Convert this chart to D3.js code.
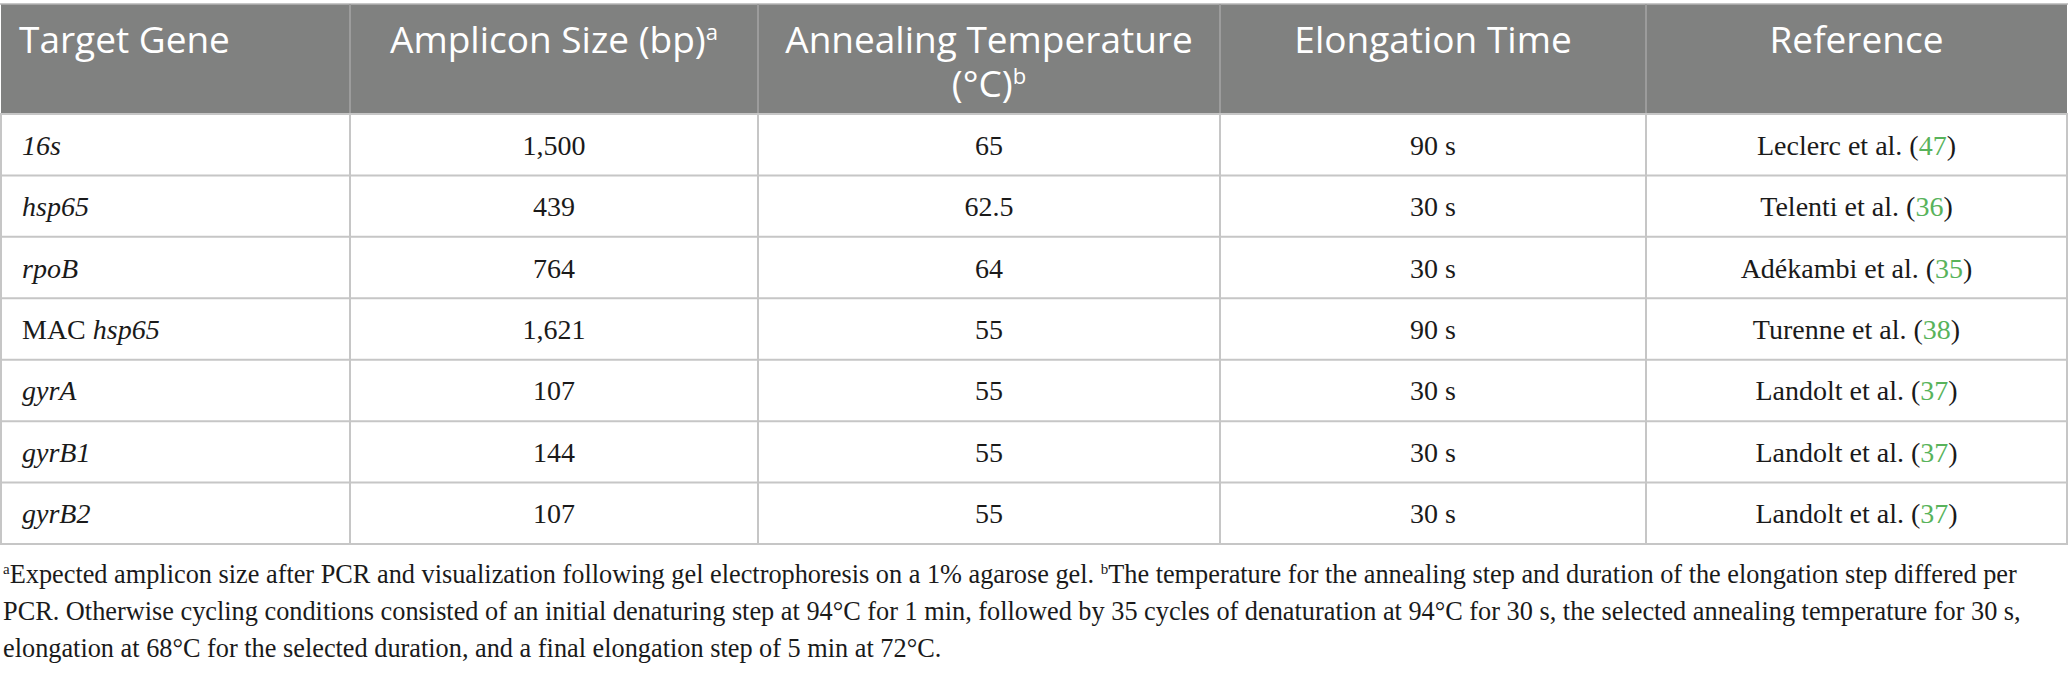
<!DOCTYPE html>
<html lang="en">
<head>
    <meta charset="UTF-8">
    <title>PCR conditions table</title>
    <script src="https://d3js.org/d3.v7.min.js"></script>
    <style>
        body { margin: 0; background: #fff; }
        .head { font-family: "Open Sans", sans-serif; font-size: 37px; fill: #fff; }
        .cell { font-family: "Liberation Serif", serif; font-size: 28px; fill: #1a1a1a; }
        .note { font-family: "Liberation Serif", serif; font-size: 26.3px; fill: #1a1a1a; }
        .ref { fill: #58b35b; }
    </style>
</head>
<body>
    <script>
        // table content
        const headers = [
            ["Target Gene"],
            ["Amplicon Size (bp)|a"],
            ["Annealing Temperature", "(°C)|b"],
            ["Elongation Time"],
            ["Reference"]
        ];
        // prefix (roman) + gene name (italic)
        const genePrefix = ["", "", "", "MAC ", "", "", ""];
        const geneNames = ["16s", "hsp65", "rpoB", "hsp65", "gyrA", "gyrB1", "gyrB2"];
        const ampliconSizes = [1500, 439, 764, 1621, 107, 144, 107];
        const annealingTemps = [65, 62.5, 64, 55, 55, 55, 55];
        const elongationTimes = [90, 30, 30, 90, 30, 30, 30];
        const refAuthors = ["Leclerc et al.", "Telenti et al.", "Adékambi et al.", "Turenne et al.",
            "Landolt et al.", "Landolt et al.", "Landolt et al."];
        const refNumbers = [47, 36, 35, 38, 37, 37, 37];

        // [text, isSuperscript]
        const footnotes = [
            [["a", true], ["Expected amplicon size after PCR and visualization following gel electrophoresis on a 1% agarose gel. ", false],
             ["b", true], ["The temperature for the annealing step and duration of the elongation step differed per", false]],
            [["PCR. Otherwise cycling conditions consisted of an initial denaturing step at 94°C for 1 min, followed by 35 cycles of denaturation at 94°C for 30 s, the selected annealing temperature for 30 s,", false]],
            [["elongation at 68°C for the selected duration, and a final elongation step of 5 min at 72°C.", false]]
        ];

        const W = 2068, H = 675;
        const tableTop = 4, headBottom = 114, tableBottom = 544;
        const colEdges = [1, 350, 758, 1220, 1646, 2067];

        const svg = d3.select("body").append("svg")
            .attr("width", W)
            .attr("height", H);

        const rowIdx = d3.range(geneNames.length);
        const y = d3.scaleBand().domain(rowIdx).range([headBottom, tableBottom]);
        const colMid = i => (colEdges[i] + colEdges[i + 1]) / 2;
        const fmt = d3.format(",");

        // header background
        svg.append("rect")
            .attr("x", colEdges[0]).attr("y", tableTop)
            .attr("width", colEdges[5] - colEdges[0]).attr("height", headBottom - tableTop)
            .attr("fill", "#808180");
        svg.append("line")
            .attr("x1", 0).attr("x2", W).attr("y1", tableTop).attr("y2", tableTop)
            .attr("stroke", "#b4b4b4").attr("stroke-width", 1.5);

        // header separators
        svg.selectAll(".hsep").data(colEdges.slice(1, 5)).enter().append("line")
            .attr("x1", d => d).attr("x2", d => d)
            .attr("y1", tableTop).attr("y2", headBottom)
            .attr("stroke", "#9c9c9c").attr("stroke-width", 2);

        // header text, one text element per line
        headers.forEach((lines, i) => {
            const x = i === 0 ? 19 : colMid(i);
            lines.forEach((ln, k) => {
                const [main, sup] = ln.split("|");
                const t = svg.append("text").attr("class", "head")
                    .attr("text-anchor", i === 0 ? "start" : "middle")
                    .attr("x", x).attr("y", 53 + k * 44);
                t.append("tspan").text(main);
                if (sup) {
                    t.append("tspan").attr("font-size", 22).attr("dy", -13).text(sup);
                }
            });
        });

        // body grid
        const gridCol = "#c6c6c6";
        svg.selectAll(".hline").data(rowIdx.map(i => y(i) + y.bandwidth()).concat([headBottom]))
            .enter().append("line")
            .attr("x1", colEdges[0] - 1).attr("x2", colEdges[5] + 1)
            .attr("y1", d => d).attr("y2", d => d)
            .attr("stroke", gridCol).attr("stroke-width", 2);
        svg.selectAll(".vline").data(colEdges)
            .enter().append("line")
            .attr("x1", d => d).attr("x2", d => d)
            .attr("y1", headBottom).attr("y2", tableBottom)
            .attr("stroke", gridCol).attr("stroke-width", 2);

        const baseY = i => y(i) + y.bandwidth() / 2 + 10;

        // column 1: gene
        const g0 = svg.selectAll(".gene").data(rowIdx).enter().append("text")
            .attr("class", "cell").attr("x", 22).attr("y", baseY);
        g0.append("tspan").text(i => genePrefix[i]);
        g0.append("tspan").attr("font-style", "italic").text(i => geneNames[i]);

        const centred = col => svg.selectAll(".c" + col).data(rowIdx).enter().append("text")
            .attr("class", "cell").attr("text-anchor", "middle")
            .attr("x", colMid(col)).attr("y", baseY);

        centred(1).text(i => fmt(ampliconSizes[i]));
        centred(2).text(i => annealingTemps[i]);
        centred(3).text(i => elongationTimes[i] + " s");

        const r = centred(4);
        r.append("tspan").text(i => refAuthors[i] + " (");
        r.append("tspan").attr("class", "ref").text(i => refNumbers[i]);
        r.append("tspan").text(")");

        // footnotes
        footnotes.forEach((parts, k) => {
            const t = svg.append("text").attr("class", "note")
                .attr("x", 3).attr("y", 583 + k * 37);
            let raised = false;
            parts.forEach(([txt, sup]) => {
                const s = t.append("tspan").text(txt);
                if (sup) {
                    s.attr("font-size", 15).attr("dy", -9);
                    raised = true;
                } else if (raised) {
                    s.attr("dy", 9);
                    raised = false;
                }
            });
        });
    </script>
</body>
</html>
